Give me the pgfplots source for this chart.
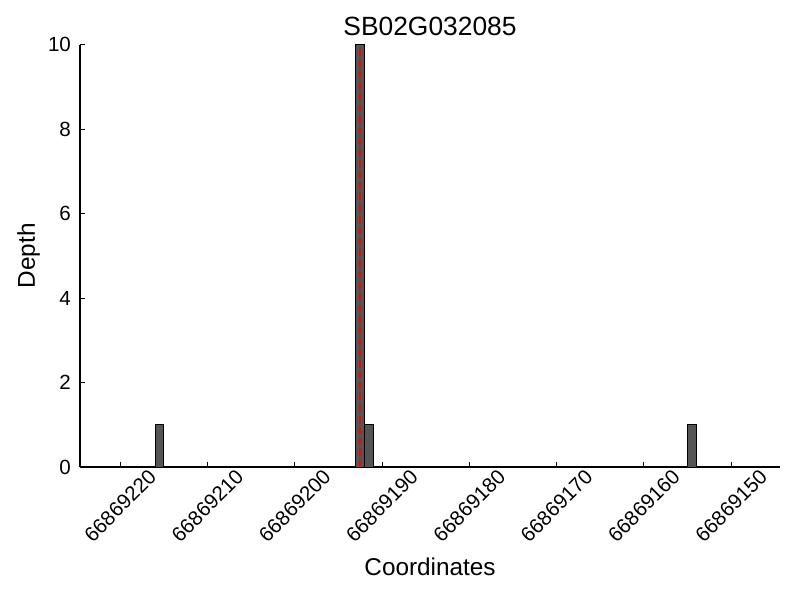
\documentclass[border=0pt]{standalone}
\usepackage{pgfplots}
\pgfplotsset{compat=1.18}
\usepackage{fontspec}
\setmainfont{Liberation Sans}
\definecolor{barfill}{HTML}{555555}
\begin{document}
\begin{tikzpicture}
\path[use as bounding box] (-57.6pt,-95.76pt) rectangle (518.4pt,336.24pt);
\begin{axis}[
  at={(0,0)}, anchor=south west,
  scale only axis,
  width=504pt, height=304pt,
  x dir=reverse,
  xmin=144.4, xmax=224.6,
  ymin=0, ymax=10,
  axis x line*=bottom, axis y line*=left,
  xtick={150,160,170,180,190,200,210,220},
  xticklabels={66869150,66869160,66869170,66869180,66869190,66869200,66869210,66869220},
  ytick={0,2,4,6,8,10},
  tick align=inside,
  major tick length=3.6pt,
  tick style={black, line width=0.6pt},
  axis line style={black, line width=0.8pt},
  /pgf/number format/assume math mode=true,
  tick label style={font=\fontsize{14.8}{17}\selectfont},
  xticklabel style={yshift=-28pt, rotate=45, anchor=center},
  yticklabel style={xshift=-3pt},
  title={SB02G032085},
  title style={font=\fontsize{19}{22}\selectfont, at={(axis description cs:0.5,1)}, anchor=center, yshift=7pt},
  xlabel={Coordinates},
  xlabel style={font=\fontsize{17.5}{20}\selectfont, at={(axis description cs:0.5,0)}, anchor=center, yshift=-72pt},
  ylabel={Depth},
  ylabel style={font=\fontsize{17.5}{20}\selectfont, at={([xshift=-37pt]axis description cs:0,0.5)}, anchor=center},
  clip=false,
]
\addplot[ybar, bar width=1, fill=barfill, draw=black, line width=0.6pt] coordinates {
  (215.5,1) (192.5,10) (191.5,1) (154.5,1)
};
\addplot[red, line width=1.4pt, dash pattern=on 5pt off 3pt] coordinates {(192.5,0) (192.5,10)};
\end{axis}
\end{tikzpicture}
\end{document}
